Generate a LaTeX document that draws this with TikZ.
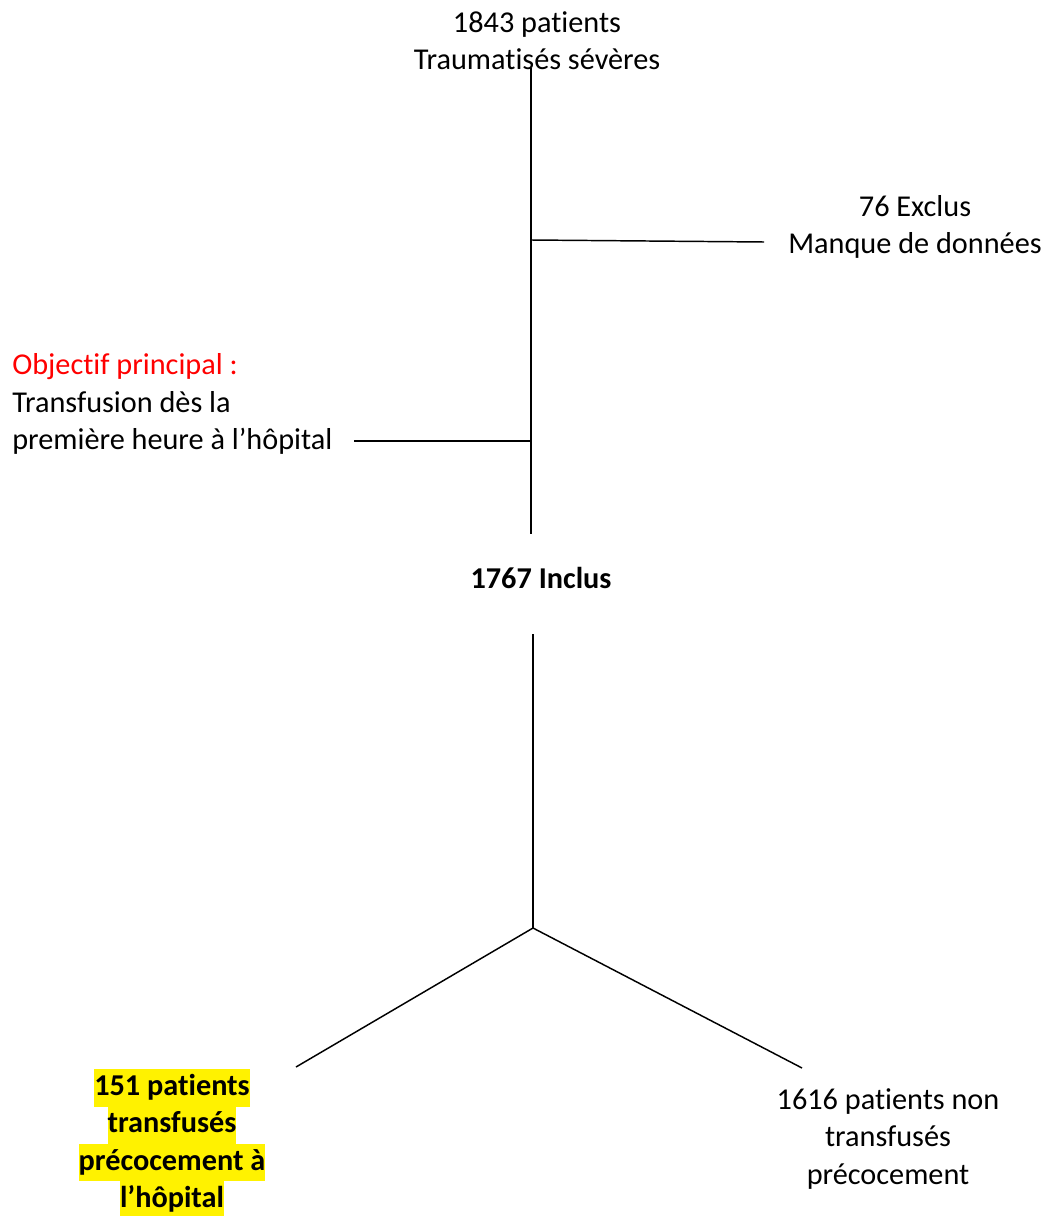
\documentclass[tikz,border=0pt]{standalone}
\usepackage{fontspec}
\setmainfont[Ligatures=NoCommon]{Carlito}
\usepackage{tikz}
\usetikzlibrary{calc}

\newcommand{\hlbox}[1]{{\setlength{\fboxsep}{0pt}\colorbox{yellow}{\strut #1}}}

\begin{document}
\begin{tikzpicture}[x=0.75pt,y=-0.75pt,
  txt/.style={inner sep=0pt,align=center,font=\fontsize{22.7}{28}\selectfont},
  branch/.style={line width=1.1pt}]

\useasboundingbox (0,0) rectangle (1043,1216);

% texts
\node[txt] (total) at (537,41) {1843 patients\\Traumatisés sévères};
\node[txt] (exclus) at (915,227) {76 Exclus\\Manque de données};
\node[txt,anchor=west,align=left] (objectif) at (12,404) {\textcolor{red}{Objectif principal :}\\Transfusion dès la\\première heure à l’hôpital};
\node[txt,font=\fontsize{22.7}{28}\selectfont\bfseries] (inclus) at (541,578) {1767 Inclus};
\node[txt,font=\fontsize{22.7}{28}\selectfont\bfseries] (transf) at (172,1144) {\hlbox{151 patients}\\\hlbox{transfusés}\\\hlbox{précocement à}\\\hlbox{l’hôpital}};
\node[txt] (nontransf) at (888,1139) {1616 patients non\\transfusés\\précocement};

% junctions
\coordinate (trunktop) at (531,68);
\coordinate (exclusj) at (531,240);
\coordinate (exclusend) at (764,242);
\coordinate (objj) at (531,441);
\coordinate (objend) at (354,441);
\coordinate (trunkbot) at (531,534);
\coordinate (lowtop) at (533,634);
\coordinate (fork) at (533,928);
\coordinate (leftend) at (296,1067);
\coordinate (rightend) at (802,1068);

\draw[branch] (trunktop) -- (trunkbot);
\draw[branch] (exclusj) -- (exclusend);
\draw[branch] (objj) -- (objend);
\draw[branch] (lowtop) -- (fork);
\draw[branch] (leftend) -- (fork) -- (rightend);

\end{tikzpicture}
\end{document}
